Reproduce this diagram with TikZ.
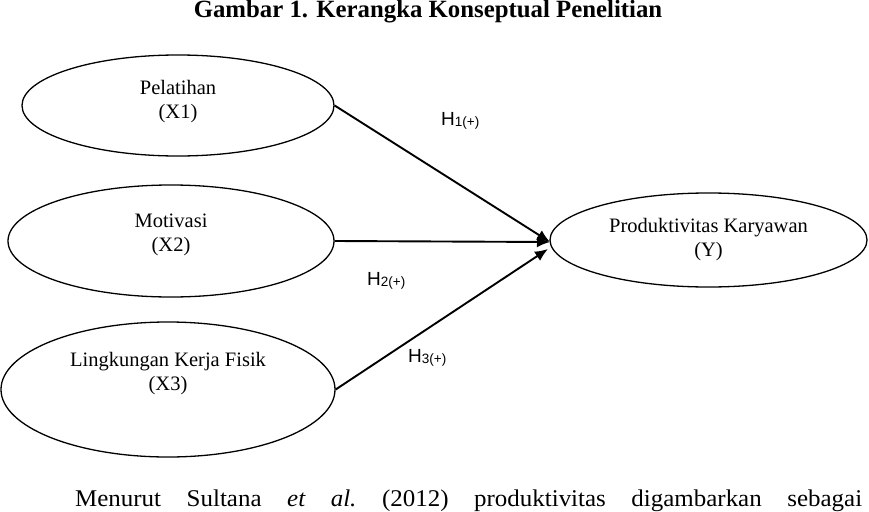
\documentclass[tikz,border=0pt]{standalone}
\usepackage{fontspec}
\setmainfont{Liberation Serif}
\newfontfamily\hfont{Liberation Sans}
\newfontfamily\bodyfont[FakeStretch=1.04]{Liberation Serif}
\usetikzlibrary{arrows.meta,shapes.geometric}
\begin{document}
\begin{tikzpicture}[x=1pt,y=-1pt,
  oval/.style={draw,line width=1.3pt,ellipse,inner sep=0pt},
  lbl/.style={font=\fontsize{20.5}{24}\selectfont,align=center,inner sep=0pt},
  conn/.style={line width=1.9pt,-{Latex[length=13pt,width=11pt]}},
  hyp/.style={anchor=base west,inner sep=0pt,font=\hfont\fontsize{19}{20}\selectfont}]
\useasboundingbox (0,0) rectangle (869,511);
% title
\node[anchor=base,inner sep=0pt,font=\fontsize{24.8}{28}\selectfont\bfseries] (title) at (428,18) {Gambar 1. Kerangka Konseptual Penelitian};
% ellipses
\node[oval,minimum width=312pt,minimum height=101pt] (e1) at (178,105.5) {};
\node[oval,minimum width=326pt,minimum height=112pt] (e2) at (171,241) {};
\node[oval,minimum width=334pt,minimum height=135pt] (e3) at (168,389.5) {};
\node[oval,minimum width=317pt,minimum height=94pt] (ey) at (708.5,240) {};
% texts
\node[lbl] (t1) at (178,101.5) {Pelatihan\\(X1)};
\node[lbl] (t2) at (171,234.5) {Motivasi\\(X2)};
\node[lbl] (t3) at (168,373.5) {Lingkungan Kerja Fisik\\(X3)};
\node[lbl] (ty) at (708.5,240) {Produktivitas Karyawan\\(Y)};
% connectors
\coordinate (p1) at (550,242);
\coordinate (p2) at (550,242);
\coordinate (p3) at (548,249);
\draw[conn] (e1.east) -- (p1);
\draw[conn] (e2.east) -- (p2);
\draw[conn] (e3.east) -- (p3);
% hypothesis labels
\node[hyp] (h1) at (441,125) {H\raisebox{-1.5pt}{\fontsize{13.5}{14}\selectfont 1(+)}};
\node[hyp] (h2) at (367,285) {H\raisebox{-1.5pt}{\fontsize{13.5}{14}\selectfont 2(+)}};
\node[hyp] (h3) at (408,362) {H\raisebox{-1.5pt}{\fontsize{13.5}{14}\selectfont 3(+)}};
% body text
\node[anchor=base west,inner sep=0pt,font=\bodyfont\fontsize{24}{28}\selectfont] (body) at (75,506)
  {\frenchspacing\makebox[787pt][s]{Menurut Sultana \textit{et al.} (2012) produktivitas digambarkan sebagai}};
\end{tikzpicture}
\end{document}
